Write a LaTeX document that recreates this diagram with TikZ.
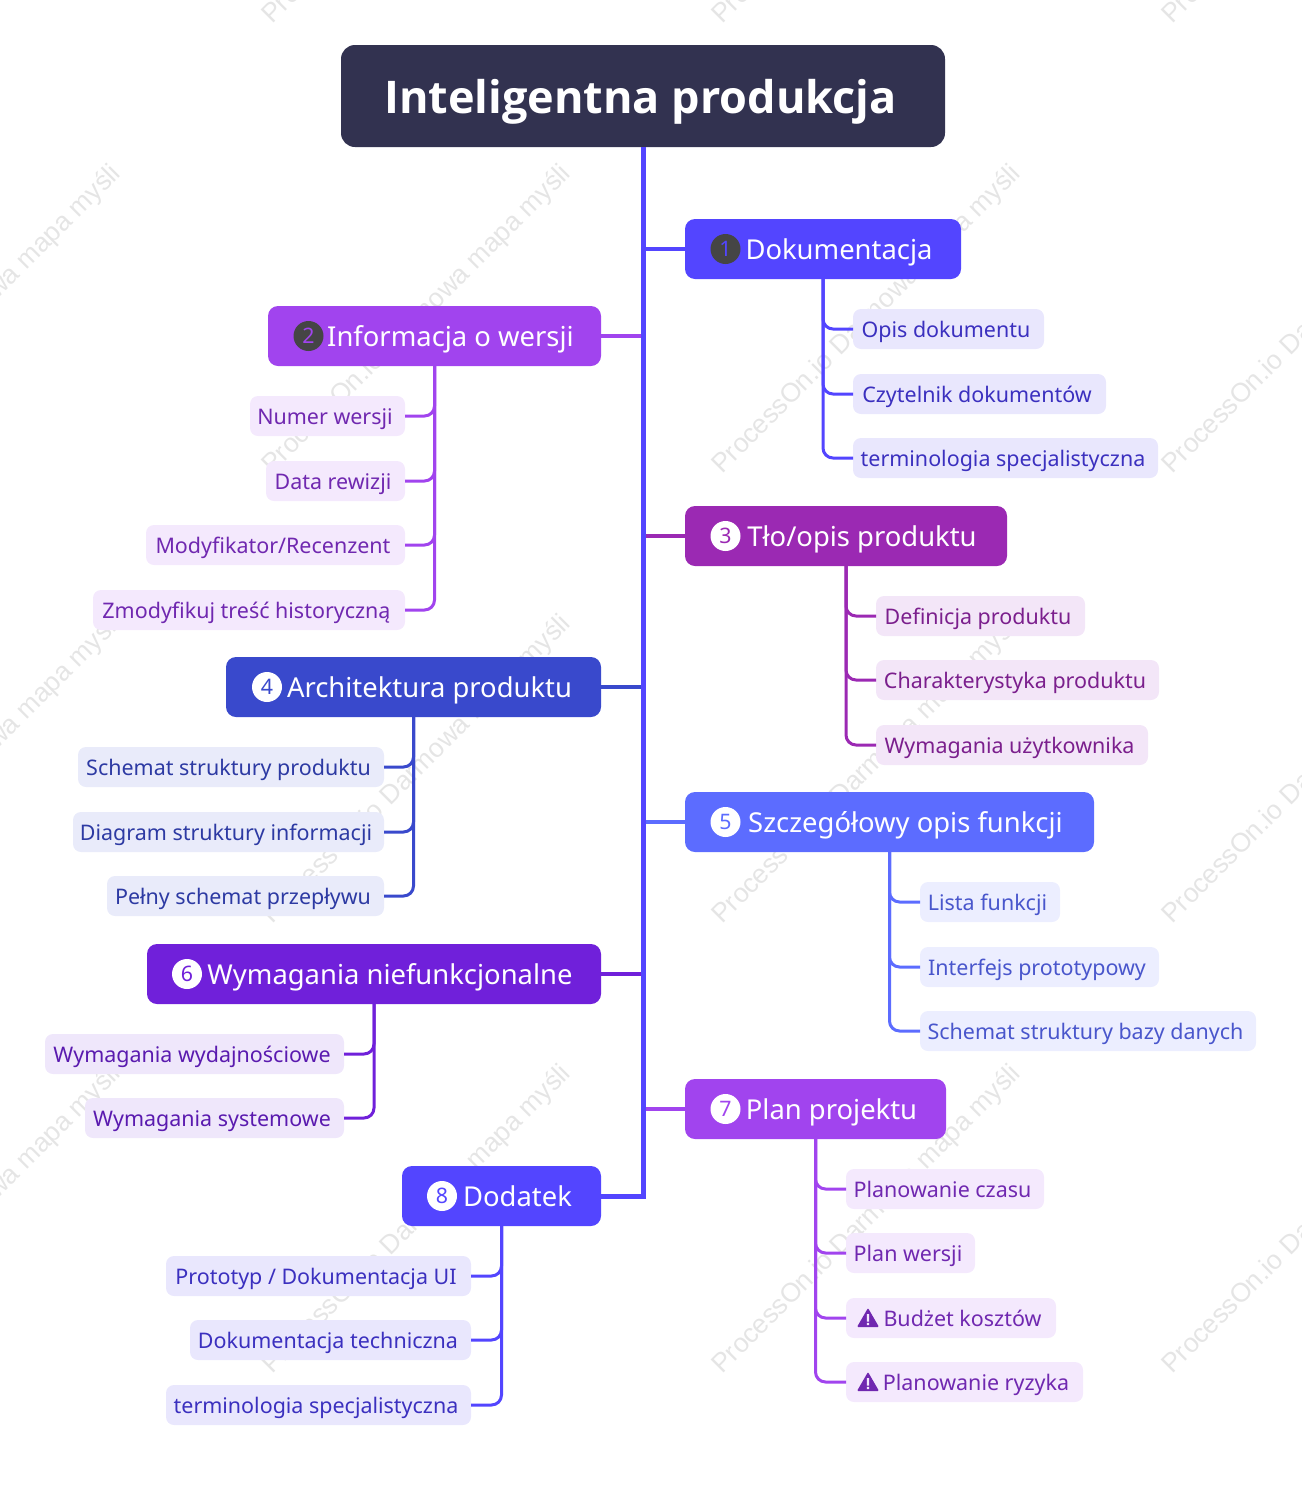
\documentclass[tikz,border=0pt]{standalone}
\usepackage{fontspec}
\setmainfont{Noto Sans}
\newfontfamily\rootfont{Open Sans}
\newfontfamily\markfont{Liberation Sans}
\usepackage{tkz-graph}
\usetikzlibrary{arrows}
\usetikzlibrary{shapes}
\definecolor{rootFill}{HTML}{323250}
\definecolor{indigoMain}{HTML}{5345FF}
\definecolor{indigoLeaf}{HTML}{E9E7FD}
\definecolor{indigoText}{HTML}{3B30BF}
\definecolor{purpleMain}{HTML}{A144EE}
\definecolor{purpleLeaf}{HTML}{F4E9FD}
\definecolor{purpleText}{HTML}{7028B0}
\definecolor{plumMain}{HTML}{9B29B3}
\definecolor{plumLeaf}{HTML}{F3E6F8}
\definecolor{plumText}{HTML}{7B1F8D}
\definecolor{navyMain}{HTML}{3949CC}
\definecolor{navyLeaf}{HTML}{E9EBFA}
\definecolor{navyText}{HTML}{2D3AA3}
\definecolor{skyMain}{HTML}{5C6CFF}
\definecolor{skyLeaf}{HTML}{ECEEFF}
\definecolor{skyText}{HTML}{4956CC}
\definecolor{violetMain}{HTML}{7020DA}
\definecolor{violetLeaf}{HTML}{EFE7FB}
\definecolor{violetText}{HTML}{5A1AAF}

\begin{document}
\begin{tikzpicture}[x = 0.75pt, y = -0.75pt]
\tikzstyle{VertexStyle} = []
\tikzstyle{EdgeStyle} = []
\tikzset{boxw/.style = {minimum width = #1*0.75pt}}
\tikzstyle{markStyle}=[shape = rectangle, inner sep = 0pt, rotate = 45, anchor = base west, text = black!10, font = \fontsize{20}{20}\markfont]
\tikzstyle{rootStyle}=[shape = rectangle, rounded corners = 10.5pt, inner sep = 0pt, minimum height = 76.5pt, text height = 26.25pt, text depth = 0pt, fill = rootFill, text = white, font = \fontsize{33.75}{36}\rootfont\bfseries, execute at end node = \hspace*{3.75pt}]
\tikzstyle{branchStyle}=[shape = rectangle, rounded corners = 7.5pt, inner sep = 0pt, minimum height = 45pt, text height = 16pt, text depth = 0pt, text = white, font = \fontsize{20.55}{22}\selectfont, execute at end node = \hspace*{3pt}]
\tikzstyle{leafStyle}=[shape = rectangle, rounded corners = 6pt, inner sep = 0pt, minimum height = 30pt, text height = 12.75pt, text depth = 0pt, font = \fontsize{16.1}{17}\selectfont, execute at end node = \hspace*{3.75pt}]
\tikzstyle{badgeStyle}=[shape = circle, inner sep = 0pt, minimum size = 22.5pt, text height = 11.7pt, text depth = 0pt, font = \fontsize{16}{16}\selectfont]
\tikzstyle{trunkStyle}=[line width = 3.75pt, draw = indigoMain]
\tikzstyle{linkStyle}=[line width = 3pt]
\tikzstyle{twigStyle}=[line width = 2.25pt, rounded corners = 7.5pt]
\useasboundingbox (0,0) rectangle (1302,1485);
\clip (0,0) rectangle (1302,1485);
% watermark
\node[markStyle] (m0) at (272,25) {ProcessOn.io Darmowa mapa myśli};
\node[markStyle] (m1) at (722,25) {ProcessOn.io Darmowa mapa myśli};
\node[markStyle] (m2) at (1172,25) {ProcessOn.io Darmowa mapa myśli};
\node[markStyle] (m3) at (-178,475) {ProcessOn.io Darmowa mapa myśli};
\node[markStyle] (m4) at (272,475) {ProcessOn.io Darmowa mapa myśli};
\node[markStyle] (m5) at (722,475) {ProcessOn.io Darmowa mapa myśli};
\node[markStyle] (m6) at (1172,475) {ProcessOn.io Darmowa mapa myśli};
\node[markStyle] (m7) at (-178,925) {ProcessOn.io Darmowa mapa myśli};
\node[markStyle] (m8) at (272,925) {ProcessOn.io Darmowa mapa myśli};
\node[markStyle] (m9) at (722,925) {ProcessOn.io Darmowa mapa myśli};
\node[markStyle] (m10) at (1172,925) {ProcessOn.io Darmowa mapa myśli};
\node[markStyle] (m11) at (-178,1375) {ProcessOn.io Darmowa mapa myśli};
\node[markStyle] (m12) at (272,1375) {ProcessOn.io Darmowa mapa myśli};
\node[markStyle] (m13) at (722,1375) {ProcessOn.io Darmowa mapa myśli};
\node[markStyle] (m14) at (1172,1375) {ProcessOn.io Darmowa mapa myśli};
% root and branches
\Vertex[style = {rootStyle, boxw = 604}, x = 643, y = 96, L = {Inteligentna produkcja}]{root}
\Vertex[style = {branchStyle, boxw = 276, fill = indigoMain}, x = 823, y = 249, L = {\hspace*{27pt}Dokumentacja}]{b1}
\Vertex[style = {branchStyle, boxw = 333, fill = purpleMain}, x = 434.5, y = 336, L = {\hspace*{27pt}Informacja o wersji}]{b2}
\Vertex[style = {branchStyle, boxw = 322, fill = plumMain}, x = 846, y = 536, L = {\hspace*{27pt}Tło/opis produktu}]{b3}
\Vertex[style = {branchStyle, boxw = 375, fill = navyMain}, x = 413.5, y = 687, L = {\hspace*{27pt}Architektura produktu}]{b4}
\Vertex[style = {branchStyle, boxw = 409, fill = skyMain}, x = 889.5, y = 822, L = {\hspace*{27pt}Szczegółowy opis funkcji}]{b5}
\Vertex[style = {branchStyle, boxw = 454, fill = violetMain}, x = 374, y = 974, L = {\hspace*{27pt}Wymagania niefunkcjonalne}]{b6}
\Vertex[style = {branchStyle, boxw = 261, fill = purpleMain}, x = 815.5, y = 1109, L = {\hspace*{27pt}Plan projektu}]{b7}
\Vertex[style = {branchStyle, boxw = 199, fill = indigoMain}, x = 501.5, y = 1196, L = {\hspace*{27pt}Dodatek}]{b8}
% badges
\Vertex[style = {badgeStyle, fill = black!73, text = indigoMain}, x = 725.5, y = 249, L = {1}]{n1}
\Vertex[style = {badgeStyle, fill = black!73, text = purpleMain}, x = 308.5, y = 336, L = {2}]{n2}
\Vertex[style = {badgeStyle, fill = white, text = plumMain}, x = 725.5, y = 536, L = {3}]{n3}
\Vertex[style = {badgeStyle, fill = white, text = navyMain}, x = 267, y = 687, L = {4}]{n4}
\Vertex[style = {badgeStyle, fill = white, text = skyMain}, x = 725.5, y = 822, L = {5}]{n5}
\Vertex[style = {badgeStyle, fill = white, text = violetMain}, x = 187, y = 974, L = {6}]{n6}
\Vertex[style = {badgeStyle, fill = white, text = purpleMain}, x = 725.5, y = 1109, L = {7}]{n7}
\Vertex[style = {badgeStyle, fill = white, text = indigoMain}, x = 442, y = 1196, L = {8}]{n8}
% leaves
\Vertex[style = {leafStyle, boxw = 191, fill = indigoLeaf, text = indigoText}, x = 948.5, y = 329, L = {Opis dokumentu}]{a1}
\Vertex[style = {leafStyle, boxw = 253, fill = indigoLeaf, text = indigoText}, x = 979.5, y = 394, L = {Czytelnik dokumentów}]{a2}
\Vertex[style = {leafStyle, boxw = 305, fill = indigoLeaf, text = indigoText}, x = 1005.5, y = 458, L = {terminologia specjalistyczna}]{a3}
\Vertex[style = {leafStyle, boxw = 155, fill = purpleLeaf, text = purpleText}, x = 327.5, y = 416, L = {Numer wersji}]{c1}
\Vertex[style = {leafStyle, boxw = 139, fill = purpleLeaf, text = purpleText}, x = 335.5, y = 481, L = {Data rewizji}]{c2}
\Vertex[style = {leafStyle, boxw = 259, fill = purpleLeaf, text = purpleText}, x = 275.5, y = 545, L = {Modyfikator/Recenzent}]{c3}
\Vertex[style = {leafStyle, boxw = 312, fill = purpleLeaf, text = purpleText}, x = 249, y = 610, L = {Zmodyfikuj treść historyczną}]{c4}
\Vertex[style = {leafStyle, boxw = 209, fill = plumLeaf, text = plumText}, x = 980.5, y = 616, L = {Definicja produktu}]{d1}
\Vertex[style = {leafStyle, boxw = 283, fill = plumLeaf, text = plumText}, x = 1017.5, y = 680, L = {Charakterystyka produktu}]{d2}
\Vertex[style = {leafStyle, boxw = 272, fill = plumLeaf, text = plumText}, x = 1012, y = 745, L = {Wymagania użytkownika}]{d3}
\Vertex[style = {leafStyle, boxw = 306, fill = navyLeaf, text = navyText}, x = 231, y = 767, L = {Schemat struktury produktu}]{e1}
\Vertex[style = {leafStyle, boxw = 311, fill = navyLeaf, text = navyText}, x = 228.5, y = 832, L = {Diagram struktury informacji}]{e2}
\Vertex[style = {leafStyle, boxw = 277, fill = navyLeaf, text = navyText}, x = 245.5, y = 896, L = {Pełny schemat przepływu}]{e3}
\Vertex[style = {leafStyle, boxw = 140, fill = skyLeaf, text = skyText}, x = 990, y = 902, L = {Lista funkcji}]{f1}
\Vertex[style = {leafStyle, boxw = 239, fill = skyLeaf, text = skyText}, x = 1039.5, y = 967, L = {Interfejs prototypowy}]{f2}
\Vertex[style = {leafStyle, boxw = 336, fill = skyLeaf, text = skyText}, x = 1088, y = 1031, L = {Schemat struktury bazy danych}]{f3}
\Vertex[style = {leafStyle, boxw = 299, fill = violetLeaf, text = violetText}, x = 194.5, y = 1054, L = {Wymagania wydajnościowe}]{g1}
\Vertex[style = {leafStyle, boxw = 259, fill = violetLeaf, text = violetText}, x = 214.5, y = 1118, L = {Wymagania systemowe}]{g2}
\Vertex[style = {leafStyle, boxw = 198, fill = purpleLeaf, text = purpleText}, x = 945, y = 1189, L = {Planowanie czasu}]{h1}
\Vertex[style = {leafStyle, boxw = 129, fill = purpleLeaf, text = purpleText}, x = 910.5, y = 1253, L = {Plan wersji}]{h2}
\Vertex[style = {leafStyle, boxw = 210, fill = purpleLeaf, text = purpleText}, x = 951, y = 1318, L = {\hspace*{21pt}Budżet kosztów}]{h3}
\Vertex[style = {leafStyle, boxw = 237, fill = purpleLeaf, text = purpleText}, x = 964.5, y = 1382, L = {\hspace*{21pt}Planowanie ryzyka}]{h4}
\Vertex[style = {leafStyle, boxw = 305, fill = indigoLeaf, text = indigoText}, x = 318.5, y = 1276, L = {Prototyp / Dokumentacja UI}]{i1}
\Vertex[style = {leafStyle, boxw = 281, fill = indigoLeaf, text = indigoText}, x = 330.5, y = 1340, L = {Dokumentacja techniczna}]{i2}
\Vertex[style = {leafStyle, boxw = 305, fill = indigoLeaf, text = indigoText}, x = 318.5, y = 1405, L = {terminologia specjalistyczna}]{i3}
% warning marks
\fill[purpleText, rounded corners = 0.8pt] (857,1327) -- (868,1308) -- (879,1327) -- cycle;
\fill[purpleLeaf] (866.8,1314) rectangle (869.2,1321.5) (866.8,1322.8) rectangle (869.2,1325);
\fill[purpleText, rounded corners = 0.8pt] (857,1391) -- (868,1372) -- (879,1391) -- cycle;
\fill[purpleLeaf] (866.8,1378) rectangle (869.2,1385.5) (866.8,1386.8) rectangle (869.2,1389);
% connectors
\draw[linkStyle, indigoMain] (root.south |- b1.west) -- (b1.west);
\draw[linkStyle, purpleMain] (root.south |- b2.east) -- (b2.east);
\draw[linkStyle, plumMain] (root.south |- b3.west) -- (b3.west);
\draw[linkStyle, navyMain] (root.south |- b4.east) -- (b4.east);
\draw[linkStyle, skyMain] (root.south |- b5.west) -- (b5.west);
\draw[linkStyle, violetMain] (root.south |- b6.east) -- (b6.east);
\draw[linkStyle, purpleMain] (root.south |- b7.west) -- (b7.west);
\draw[trunkStyle] (root.south) |- (b8.east);
\draw[twigStyle, indigoMain] (b1.south) |- (a1.west);
\draw[twigStyle, indigoMain] (b1.south) |- (a2.west);
\draw[twigStyle, indigoMain] (b1.south) |- (a3.west);
\draw[twigStyle, purpleMain] (b2.south) |- (c1.east);
\draw[twigStyle, purpleMain] (b2.south) |- (c2.east);
\draw[twigStyle, purpleMain] (b2.south) |- (c3.east);
\draw[twigStyle, purpleMain] (b2.south) |- (c4.east);
\draw[twigStyle, plumMain] (b3.south) |- (d1.west);
\draw[twigStyle, plumMain] (b3.south) |- (d2.west);
\draw[twigStyle, plumMain] (b3.south) |- (d3.west);
\draw[twigStyle, navyMain] (b4.south) |- (e1.east);
\draw[twigStyle, navyMain] (b4.south) |- (e2.east);
\draw[twigStyle, navyMain] (b4.south) |- (e3.east);
\draw[twigStyle, skyMain] (b5.south) |- (f1.west);
\draw[twigStyle, skyMain] (b5.south) |- (f2.west);
\draw[twigStyle, skyMain] (b5.south) |- (f3.west);
\draw[twigStyle, violetMain] (b6.south) |- (g1.east);
\draw[twigStyle, violetMain] (b6.south) |- (g2.east);
\draw[twigStyle, purpleMain] (b7.south) |- (h1.west);
\draw[twigStyle, purpleMain] (b7.south) |- (h2.west);
\draw[twigStyle, purpleMain] (b7.south) |- (h3.west);
\draw[twigStyle, purpleMain] (b7.south) |- (h4.west);
\draw[twigStyle, indigoMain] (b8.south) |- (i1.east);
\draw[twigStyle, indigoMain] (b8.south) |- (i2.east);
\draw[twigStyle, indigoMain] (b8.south) |- (i3.east);
\end{tikzpicture}
\end{document}
